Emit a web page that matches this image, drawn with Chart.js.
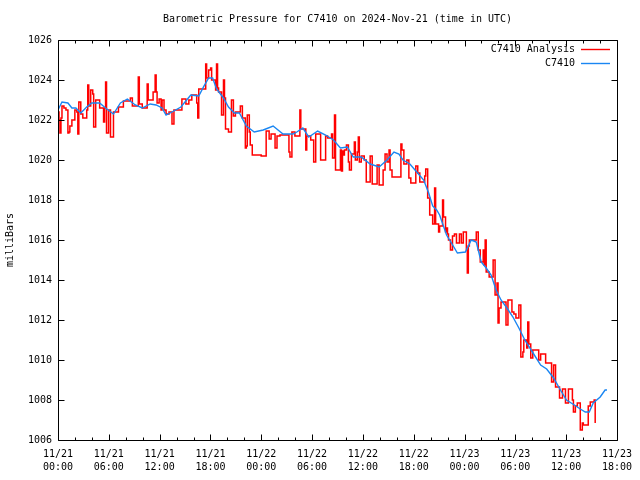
<!DOCTYPE html>
<html>
<head>
<meta charset="utf-8">
<script src="https://cdn.jsdelivr.net/npm/chart.js@4/dist/chart.umd.min.js"></script>
<style>
html,body{margin:0;padding:0;background:#fff;}
#wrap{width:640px;height:480px;}
</style>
</head>
<body>
<div id="wrap"><canvas id="c" width="640" height="480"></canvas></div>
<script>
const chartTitle = "Barometric Pressure for C7410 on 2024-Nov-21 (time in UTC)";
const yAxisTitle = "milliBars";
const seriesNames = ["C7410 Analysis", "C7410"];
const xTickLabels = [
  ["11/21","00:00"],["11/21","06:00"],["11/21","12:00"],["11/21","18:00"],
  ["11/22","00:00"],["11/22","06:00"],["11/22","12:00"],["11/22","18:00"],
  ["11/23","00:00"],["11/23","06:00"],["11/23","12:00"],["11/23","18:00"]
];
const yTickValues = [1006,1008,1010,1012,1014,1016,1018,1020,1022,1024,1026];

// hours since 11/21 00:00 UTC
const analysisHours = [
0.00,0.12,0.23,0.35,0.47,0.70,0.94,1.17,1.29,1.40,1.64,1.99,2.22,2.34,2.46,2.69,2.93,3.39,3.51,3.63,
3.86,4.10,4.21,4.45,4.92,5.38,5.50,5.62,5.73,5.97,6.20,6.55,7.14,7.72,8.54,8.78,9.48,9.60,9.95,10.53,
10.65,11.23,11.47,11.59,11.70,11.94,12.17,12.29,12.52,12.76,13.11,13.46,13.69,14.63,15.10,15.45,15.80,16.38,16.50,16.62,
17.44,17.55,17.79,18.02,18.14,18.61,18.72,18.84,18.96,19.31,19.54,19.66,19.78,20.13,20.48,20.71,20.95,21.53,21.77,22.12,
22.24,22.35,22.59,22.70,22.94,23.99,24.58,24.93,25.16,25.63,25.86,26.21,27.27,27.39,27.62,27.97,28.56,28.67,29.26,29.37,
29.84,30.19,30.43,31.01,31.60,31.83,32.30,32.42,32.65,32.77,33.35,33.47,33.59,33.70,33.82,34.06,34.29,34.41,34.64,34.99,
35.11,35.34,35.46,35.58,35.81,36.16,36.40,36.86,37.10,37.68,37.92,38.39,38.62,38.85,39.09,39.21,39.44,40.49,40.61,40.84,
41.19,41.43,41.66,42.25,42.48,42.72,43.30,43.42,43.65,43.89,44.24,44.47,44.59,44.94,45.06,45.41,45.52,45.76,45.88,45.99,
46.11,46.34,46.58,46.81,47.05,47.40,47.63,47.86,48.22,48.33,48.45,48.57,49.39,49.62,49.86,50.21,50.32,50.44,50.56,50.91,
51.38,51.61,51.84,51.96,52.08,52.31,52.90,53.13,53.60,53.83,54.07,54.42,54.65,54.89,55.00,55.35,55.47,55.59,55.82,56.06,
56.76,56.99,57.58,58.28,58.52,58.75,59.22,59.57,59.92,60.27,60.74,60.86,61.09,61.32,61.67,61.91,62.03,62.61,62.85,63.31,
63.43
];
const analysisValues = [
1022.4,1022.0,1021.35,1022.1,1022.7,1022.6,1022.5,1021.35,1021.4,1021.7,1022.0,1022.5,1022.4,1021.3,1022.9,1022.3,1022.1,1022.5,1023.75,1022.7,
1023.5,1023.3,1021.65,1023.0,1022.6,1021.9,1022.6,1023.9,1021.35,1022.5,1021.15,1022.4,1022.65,1022.95,1023.1,1022.7,1024.15,1022.8,1022.6,1023.8,
1023.0,1023.4,1024.25,1023.4,1022.85,1023.05,1022.5,1023.0,1022.5,1022.3,1022.4,1021.8,1022.5,1023.05,1022.8,1023.0,1023.25,1022.85,1022.1,1023.55,
1024.8,1024.1,1024.5,1024.6,1024.0,1023.5,1024.8,1023.6,1023.4,1022.25,1024.0,1023.1,1021.55,1021.4,1023.0,1022.2,1022.4,1022.7,1022.1,1020.6,
1020.7,1022.25,1021.4,1020.75,1020.25,1020.2,1021.45,1021.05,1021.3,1020.6,1021.2,1021.25,1020.4,1020.15,1021.4,1021.2,1022.5,1021.55,1020.5,1021.2,
1021.0,1019.9,1021.3,1020.0,1021.2,1021.1,1021.3,1020.1,1022.25,1019.5,1020.5,1019.45,1020.45,1020.25,1020.5,1020.75,1019.9,1019.5,1020.3,1020.9,
1020.0,1020.4,1021.15,1019.9,1020.2,1020.0,1018.9,1020.2,1018.8,1019.75,1018.75,1019.5,1020.3,1019.9,1020.5,1019.5,1019.15,1020.8,1020.5,1019.8,
1020.0,1019.1,1018.85,1019.7,1019.35,1018.9,1019.2,1019.55,1018.1,1017.25,1016.8,1018.6,1016.8,1016.4,1016.7,1018.0,1017.15,1016.4,1016.6,1016.3,
1016.0,1015.5,1016.2,1016.3,1015.85,1016.3,1015.85,1016.4,1015.5,1014.35,1015.7,1016.0,1016.4,1015.5,1014.9,1015.5,1014.75,1016.0,1014.4,1014.15,
1015.0,1013.25,1013.85,1011.85,1012.6,1012.9,1011.75,1013.0,1012.4,1012.3,1012.1,1012.75,1010.15,1010.4,1011.0,1010.6,1011.9,1010.8,1010.1,1010.5,
1010.0,1010.3,1009.85,1008.9,1009.75,1008.65,1008.1,1008.55,1007.85,1008.55,1008.0,1007.4,1007.7,1007.85,1006.5,1006.85,1006.75,1007.7,1007.9,1008.0,
1006.85
];

const stationHours = [
0.00,0.47,1.17,1.64,2.11,2.69,3.39,3.98,4.92,5.62,6.55,7.37,8.19,9.13,9.95,10.88,11.59,12.29,12.76,13.46,
14.51,15.68,16.62,17.20,17.79,18.26,18.72,19.54,20.13,20.83,21.42,22.24,23.17,24.23,25.40,26.57,27.74,28.20,28.91,29.61,
30.66,31.60,32.53,33.35,34.17,34.87,35.81,36.86,37.92,38.85,39.67,40.26,40.73,41.55,42.36,43.18,43.77,44.24,44.71,45.06,
45.88,46.46,47.16,48.10,48.80,49.39,49.97,50.56,51.14,51.73,52.31,53.01,53.72,54.42,55.12,56.17,56.99,57.70,58.52,59.33,
60.04,60.97,61.67,62.26,62.73,63.20,64.02,64.60,64.83
];
const stationValues = [
1022.5,1022.9,1022.85,1022.6,1022.6,1022.35,1022.65,1022.85,1022.85,1022.6,1022.3,1022.85,1023.05,1022.75,1022.6,1022.8,1022.75,1022.6,1022.25,1022.4,
1022.65,1023.25,1023.2,1023.67,1024.1,1024.1,1023.55,1023.1,1022.65,1022.35,1022.35,1021.7,1021.4,1021.5,1021.7,1021.3,1021.3,1021.4,1021.6,1021.15,
1021.45,1021.25,1021.0,1020.6,1020.65,1020.15,1020.15,1019.8,1019.65,1020.0,1020.4,1020.3,1020.0,1019.8,1019.4,1019.0,1018.35,1017.7,1017.5,1017.25,
1016.25,1015.85,1015.35,1015.4,1016.0,1015.9,1014.9,1014.6,1014.25,1013.5,1013.0,1012.6,1012.15,1011.6,1011.0,1010.3,1009.75,1009.55,1009.1,1008.5,
1008.0,1007.75,1007.55,1007.4,1007.4,1007.85,1008.15,1008.5,1008.5
];

const FONT = "'DejaVu Sans Mono', 'Liberation Mono', monospace";
const RED = "#ff0000";
const BLUE = "#1a86f2";

const toPts = (xs, ys) => xs.map((x, i) => ({x: x, y: ys[i]}));

const framePlugin = {
  id: 'frame',
  afterDraw(chart) {
    const ctx = chart.ctx;
    const a = chart.chartArea;
    const xs = chart.scales.x, ys = chart.scales.y;
    ctx.save();
    ctx.strokeStyle = '#000';
    ctx.lineWidth = 1;
    const L = Math.round(a.left) + 0.5, R = Math.round(a.right) + 0.5;
    const T = Math.round(a.top) + 0.5, B = Math.round(a.bottom) + 0.5;
    ctx.beginPath();
    ctx.rect(L, T, R - L, B - T);
    yTickValues.forEach(v => {
      const p = Math.round(ys.getPixelForValue(v)) + 0.5;
      ctx.moveTo(L, p); ctx.lineTo(L + 6, p);
      ctx.moveTo(R, p); ctx.lineTo(R - 6, p);
    });
    for (let h = 0; h <= 66; h += 2) {
      const p = Math.round(xs.getPixelForValue(h)) + 0.5;
      const len = (h % 6 === 0) ? 6 : 3;
      ctx.moveTo(p, B); ctx.lineTo(p, B - len);
      ctx.moveTo(p, T); ctx.lineTo(p, T + len);
    }
    ctx.stroke();

    ctx.fillStyle = '#000';
    ctx.font = '10px ' + FONT;
    ctx.textAlign = 'center';
    ctx.textBaseline = 'middle';
    ctx.fillText(chartTitle, (a.left + a.right) / 2, 19);

    const colors = [RED, BLUE];
    ctx.textAlign = 'right';
    seriesNames.forEach((name, i) => {
      const y = 49 + i * 14;
      ctx.fillStyle = '#000';
      ctx.fillText(name, 575, y);
      ctx.strokeStyle = colors[i];
      ctx.lineWidth = 1.4;
      ctx.beginPath();
      ctx.moveTo(581, Math.round(y) + 0.5);
      ctx.lineTo(610, Math.round(y) + 0.5);
      ctx.stroke();
    });
    ctx.restore();
  }
};

new Chart(document.getElementById('c'), {
  type: 'line',
  data: {
    datasets: [
      {
        label: seriesNames[1],
        data: toPts(stationHours, stationValues),
        borderColor: BLUE,
        borderWidth: 1.4,
        pointRadius: 0,
        tension: 0,
        order: 0
      },
      {
        label: seriesNames[0],
        data: toPts(analysisHours, analysisValues),
        borderColor: RED,
        borderWidth: 1.5,
        pointRadius: 0,
        stepped: true,
        order: 1
      }
    ]
  },
  options: {
    responsive: false,
    animation: false,
    devicePixelRatio: 1,
    layout: { padding: { left: 0, right: 18, top: 40, bottom: 0 } },
    plugins: { legend: { display: false }, title: { display: false }, tooltip: { enabled: false } },
    scales: {
      x: {
        type: 'linear',
        min: 0, max: 66,
        grid: { display: false, drawTicks: false },
        border: { display: false },
        ticks: {
          stepSize: 6,
          autoSkip: false,
          maxRotation: 0,
          padding: 8,
          color: '#000',
          font: { family: FONT, size: 10, lineHeight: 1.3 },
          callback: (v) => xTickLabels[Math.round(v / 6)]
        },
        afterFit: (s) => { s.height = 40; }
      },
      y: {
        type: 'linear',
        min: 1006, max: 1026,
        grid: { display: false, drawTicks: false },
        border: { display: false },
        ticks: {
          stepSize: 2,
          padding: 6,
          color: '#000',
          font: { family: FONT, size: 10 },
          callback: (v) => String(v)
        },
        title: {
          display: true,
          text: yAxisTitle,
          color: '#000',
          font: { family: FONT, size: 10 },
          padding: { top: 4, bottom: 0 }
        },
        afterFit: (s) => { s.width = 58; }
      }
    }
  },
  plugins: [framePlugin]
});
</script>
</body>
</html>
